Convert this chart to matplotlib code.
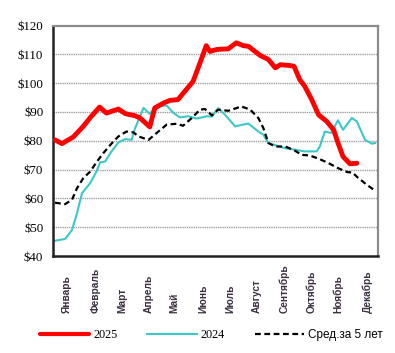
import matplotlib
matplotlib.use("Agg")
import matplotlib.pyplot as plt
import numpy as np

# Week-of-year positions and values ($/unit)
w2025 = [1.0, 2.1, 3.9, 5.5, 6.8, 8.1, 9.2, 11.1, 12.2, 13.7, 14.5, 16.1, 16.9, 18.3, 19.3,
         20.6, 21.7, 23.0, 24.1, 25.1, 25.7, 26.8, 28.6, 29.9, 31.0, 31.8, 33.7, 35.0, 36.1,
         36.9, 38.5, 39.1, 40.0, 40.8, 41.9, 43.0, 44.3, 45.4, 46.1, 46.9, 48.0, 49.1]
v2025 = [80.3, 79.0, 81.3, 85.0, 88.5, 91.7, 89.6, 91.0, 89.4, 88.7, 88.0, 84.8, 91.4, 93.1, 94.0,
         94.3, 97.2, 100.6, 107.0, 113.0, 111.0, 111.7, 111.9, 114.0, 113.0, 112.8, 109.6, 108.2, 105.3,
         106.4, 106.1, 105.8, 101.2, 98.9, 94.3, 89.0, 86.7, 83.8, 79.2, 74.5, 72.0, 72.2]

w2024 = [1.0, 2.6, 3.7, 4.5, 5.3, 6.6, 7.6, 8.2, 9.0, 10.0, 11.1, 12.2, 13.2, 13.7, 15.1, 16.1,
         17.2, 18.8, 19.9, 20.9, 22.2, 23.6, 25.2, 26.0, 27.0, 28.1, 29.7, 31.8, 33.4, 34.2, 35.0,
         37.7, 39.2, 40.8, 42.7, 43.2, 44.0, 45.0, 46.1, 46.9, 48.3, 49.1, 50.4, 51.5, 52.0]
v2024 = [45.3, 45.9, 49.0, 54.8, 61.8, 65.3, 69.3, 72.5, 72.8, 76.3, 79.4, 80.6, 80.3, 84.0, 91.4, 89.3,
         92.0, 92.2, 89.6, 88.1, 88.5, 87.7, 88.5, 88.4, 91.3, 89.0, 85.0, 86.0, 83.2, 82.1, 79.2,
         77.4, 76.9, 76.3, 76.3, 78.0, 83.2, 82.7, 87.1, 83.8, 87.9, 86.7, 80.3, 79.0, 79.2]

wavg = [1.0, 2.6, 3.7, 4.5, 5.5, 6.6, 7.6, 8.7, 10.0, 11.1, 12.4, 13.5, 14.3, 15.9, 17.2, 18.8,
        20.4, 21.4, 22.8, 24.1, 24.9, 26.0, 27.0, 28.6, 30.7, 32.1, 33.4, 34.2, 35.0, 36.1, 37.7,
        39.2, 40.3, 41.6, 43.2, 44.8, 46.1, 47.6, 48.4, 49.2, 50.7, 52.0]
vavg = [58.5, 58.0, 59.5, 63.5, 67.0, 69.3, 72.5, 75.7, 79.0, 81.5, 83.2, 82.9, 81.5, 80.3, 82.7, 85.6,
        85.9, 85.2, 87.9, 90.8, 91.0, 88.8, 90.8, 90.4, 91.9, 90.8, 87.9, 84.4, 79.2, 78.0, 78.0,
        76.6, 75.1, 74.9, 73.6, 72.0, 70.5, 69.1, 69.0, 67.3, 64.7, 62.7]

months = ["Январь", "Февраль", "Март", "Апрель", "Май", "Июнь", "Июль", "Август",
          "Сентябрь", "Октябрь", "Ноябрь", "Декабрь"]
month_pos = [2.9, 7.4, 11.7, 15.9, 20.1, 24.6, 28.9, 33.2, 37.5, 41.8, 46.1, 50.8]
yticks = [40, 50, 60, 70, 80, 90, 100, 110, 120]
ylabels = ["$" + str(v) for v in yticks]
labels = ["2025", "2024", "Сред.за 5 лет"]

fig = plt.figure(figsize=(3.95, 3.53), dpi=100)
ax = fig.add_axes([53/395, 1-256/353, (378-53)/395, (256-25.5)/353])

for y in yticks[1:-1]:
    ax.axhline(y, color="#a0a0a0", lw=1.0, ls=(0, (1, 0.6)), zorder=1)

l1, = ax.plot(w2025, v2025, color="#ff0000", lw=3.5, solid_capstyle="round",
              solid_joinstyle="round", zorder=3)
l2, = ax.plot(w2024, v2024, color="#3cc8c8", lw=1.5, solid_joinstyle="round", zorder=2)
l3, = ax.plot(wavg, vavg, color="black", lw=1.6, ls=(0, (2.6, 1.6)), zorder=2)

ax.set_xlim(0.68, 52.47)
ax.set_ylim(40, 120)
ax.set_yticks(yticks)
ax.set_yticklabels(ylabels, family="Liberation Serif", fontsize=9.3)
ax.tick_params(axis="y", length=0, pad=7)
ax.set_xticks(month_pos)
ax.set_xticklabels(months, rotation=90, va="bottom", ha="center",
                   family="Liberation Sans", fontsize=7.3, fontweight="bold", color="#3a3040")
ax.tick_params(axis="x", length=0, pad=41)

for s in ["left", "bottom"]:
    ax.spines[s].set_color("#222222")
    ax.spines[s].set_linewidth(1.8)
for s in ["top", "right"]:
    ax.spines[s].set_color("#8c8c8c")
    ax.spines[s].set_linewidth(1.6)

leg = fig.legend([l1, l2, l3], labels, loc="center", ncol=3,
                 bbox_to_anchor=(211.5/395, 1-335/353), frameon=False,
                 handlelength=4.2, handletextpad=0.35, columnspacing=2.5,
                 fontsize=8.5)
fonts = ["Liberation Serif", "Liberation Serif", "Liberation Sans"]
sizes = [8.8, 8.8, 8.5]
for t, f, s in zip(leg.get_texts(), fonts, sizes):
    t.set_fontfamily(f)
    t.set_fontsize(s)
leg.get_lines()[0].set_linewidth(3.0)

fig.savefig("out.png", dpi=100)
